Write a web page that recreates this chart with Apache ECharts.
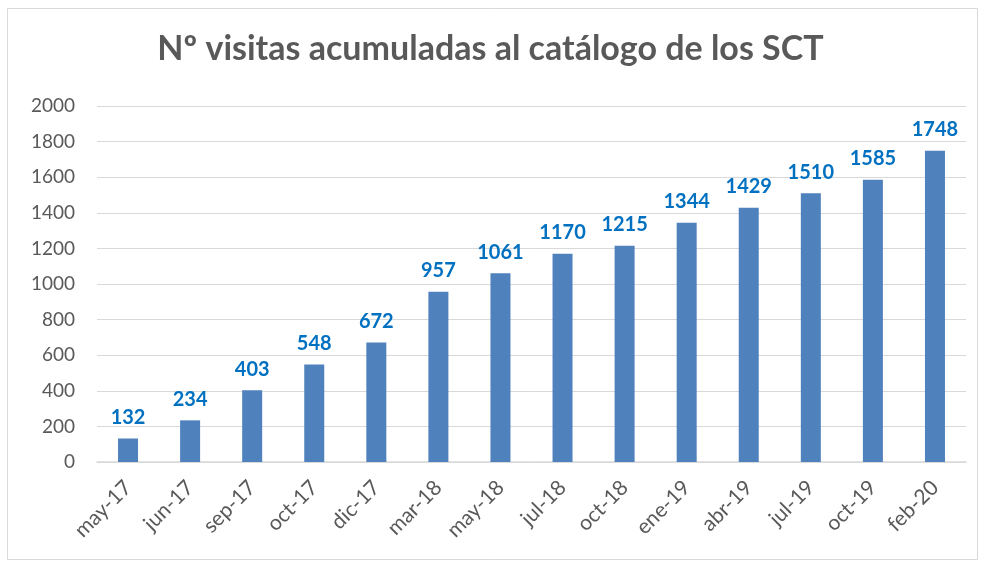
<!DOCTYPE html>
<html>
<head>
<meta charset="utf-8">
<script src="https://cdn.jsdelivr.net/npm/echarts@6/dist/echarts.min.js"></script>
<style>
html,body{margin:0;padding:0;background:#fff;}
#chart{width:981px;height:563px;}
</style>
</head>
<body>
<div id="chart"></div>
<script>
const categories = ['may-17','jun-17','sep-17','oct-17','dic-17','mar-18','may-18','jul-18','oct-18','ene-19','abr-19','jul-19','oct-19','feb-20'];
const values = [132,234,403,548,672,957,1061,1170,1215,1344,1429,1510,1585,1748];
const titleText = 'Nº visitas acumuladas al catálogo de los SCT';

const chart = echarts.init(document.getElementById('chart'));
const font = 'Lato, "Open Sans", sans-serif';
chart.setOption({
  animation: false,
  graphic: [{
    type: 'rect', left: 5, top: 6, z: -1,
    shape: { width: 970, height: 551 },
    style: { fill: 'none', stroke: '#d9d9d9', lineWidth: 1 }
  }],
  title: {
    text: titleText, left: 'center', top: 27,
    textStyle: { fontFamily: font, fontWeight: 'bold', fontSize: 34, color: '#595959' }
  },
  grid: { left: 97, right: 15, top: 106, bottom: 101 },
  xAxis: {
    type: 'category', data: categories,
    axisLine: { lineStyle: { color: '#d9d9d9', width: 1.5 } },
    axisTick: { show: false },
    axisLabel: { rotate: 45, fontFamily: font, fontSize: 21, color: '#595959', margin: 22, interval: 0 }
  },
  yAxis: {
    type: 'value', min: 0, max: 2000, interval: 200,
    axisLine: { show: false }, axisTick: { show: false },
    splitLine: { lineStyle: { color: '#d9d9d9', width: 1 } },
    axisLabel: { fontFamily: font, fontSize: 19, color: '#595959', margin: 22, formatter: v => String(v) }
  },
  series: [{
    type: 'bar', data: values, barWidth: 20,
    itemStyle: { color: '#4f81bd' },
    label: { show: true, position: 'top', distance: 11, fontFamily: font, fontWeight: 'bold', fontSize: 20, color: '#0070c0' }
  }]
});
</script>
</body>
</html>
